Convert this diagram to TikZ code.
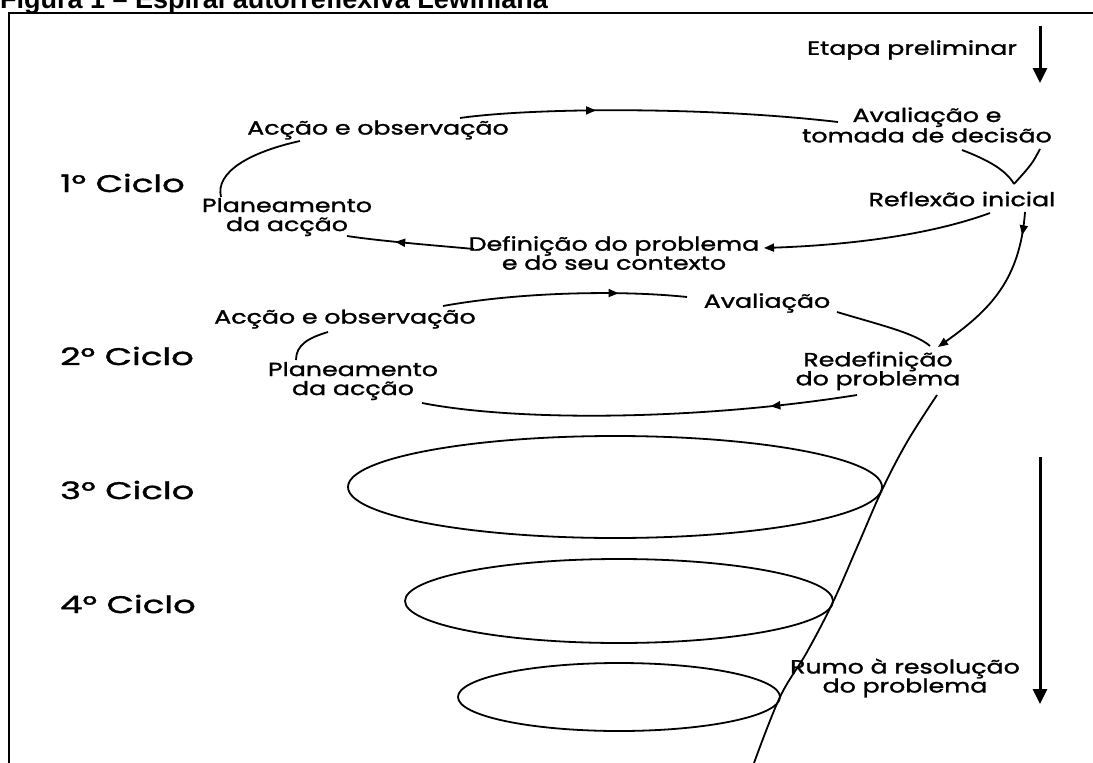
\documentclass[tikz,border=0pt]{standalone}
\usepackage{fontspec}
\setmainfont{Poppins}[FakeStretch=1.33,FakeBold=1.5]
\newfontfamily\cycfont{Poppins}[FakeStretch=1.48,FakeBold=1.5]
\newfontfamily\titlefont{Liberation Sans}
\usetikzlibrary{arrows.meta,decorations.markings}
\begin{document}
\begin{tikzpicture}[x=1pt,y=-1pt,
  lbl/.style={font=\fontsize{19}{19}\selectfont, align=center, inner sep=0pt},
  cyc/.style={font=\cycfont\fontsize{24}{26}\selectfont, anchor=west, inner sep=0pt},
  curve/.style={line width=1.8pt},
  endtip/.style={-{Triangle[length=10pt,width=8pt]}},
  midarrow/.style={postaction={decorate},decoration={markings,mark=at position #1 with {\arrow{Triangle[length=10pt,width=8pt]}}}},
  bigarrow/.style={line width=3pt, -{Triangle[length=15pt,width=14pt]}},
]
\useasboundingbox (0,0) rectangle (1093,763);
% title and frame
\node[anchor=base west, inner sep=0pt, font=\titlefont\bfseries\fontsize{27}{30}\selectfont] (title) at (0,8) {Figura 1 – Espiral autorreflexiva Lewiniana};
\draw[line width=2pt] (9,763) -- (9,13) -- (1093,13);

% preliminary stage
\node[lbl] (etapa) at (912,50) {Etapa preliminar};
\coordinate (e1) at (1040,26); \coordinate (e2) at (1040,83);
\draw[bigarrow] (e1) -- (e2);

% cycle 1
\node[lbl] (ao1) at (378,130) {Acção e observação};
\node[lbl] (av1) at (927,125) {Avaliação e\\tomada de decisão};
\node[cyc] (c1) at (60,183) {1° Ciclo};
\node[lbl] (ri) at (962,199) {Reflexão inicial};
\node[lbl] (pa1) at (287,217) {Planeamento\\da acção};
\node[lbl] (dp) at (614,253) {Definição do problema\\e do seu contexto};

\coordinate (t1a) at (460,118); \coordinate (t1b) at (838,122);
\draw[curve, midarrow=0.36] (t1a) .. controls (530,108) and (700,106) .. (t1b);
\coordinate (l1a) at (221,197); \coordinate (l1b) at (300,141);
\draw[curve] (l1a) .. controls (215,172) and (250,152) .. (l1b);
\coordinate (v1) at (962,150); \coordinate (v0) at (1014,184); \coordinate (v2) at (1040,149);
\draw[curve] (v1) .. controls (988,160) and (1006,170) .. (v0);
\draw[curve] (v2) .. controls (1032,164) .. (v0);
\coordinate (b1a) at (990,213); \coordinate (b1b) at (764,248);
\draw[curve, endtip] (b1a) .. controls (930,235) and (850,245) .. (b1b);
\coordinate (b1c) at (474,249); \coordinate (b1d) at (347,236);
\draw[curve, midarrow=0.62] (b1c) .. controls (430,245) and (380,241) .. (b1d);
\coordinate (d1a) at (1025,212); \coordinate (d1b) at (938,347);
\draw[curve, endtip, midarrow=0.14] (d1a) .. controls (1020,280) and (990,310) .. (d1b);

% cycle 2
\node[lbl] (av2) at (767,303) {Avaliação};
\node[lbl] (ao2) at (345,319) {Acção e observação};
\node[cyc] (c2) at (60,356) {2° Ciclo};
\node[lbl] (rd) at (878,371) {Redefinição\\do problema};
\node[lbl] (pa2) at (353,381) {Planeamento\\da acção};

\coordinate (t2a) at (443,306); \coordinate (t2b) at (687,297);
\draw[curve, midarrow=0.72] (t2a) .. controls (520,292) and (620,290) .. (t2b);
\coordinate (l2a) at (296,360); \coordinate (l2b) at (328,332);
\draw[curve] (l2a) .. controls (296,345) and (308,338) .. (l2b);
\coordinate (r2a) at (837,312); \coordinate (r2b) at (930,346);
\draw[curve] (r2a) .. controls (880,325) and (915,333) .. (r2b);
\coordinate (b2a) at (857,395); \coordinate (b2b) at (422,403);
\draw[curve, midarrow=0.2] (b2a) .. controls (700,420) and (520,422) .. (b2b);

% descending spiral
\draw[curve] plot[smooth, tension=0.6] coordinates {(937,395) (907,442) (882,490) (858,545) (833,602) (807,652) (780,697) (754,763)};

% cycles 3-5
\node[cyc] (c3) at (60,490) {3° Ciclo};
\node[cyc] (c4) at (60,604) {4° Ciclo};
\draw[curve] (615,487) ellipse [x radius=267, y radius=51];
\draw[curve] (619,601) ellipse [x radius=214, y radius=42];
\draw[curve] (619,697) ellipse [x radius=161, y radius=34];

\node[lbl] (rr) at (905,678) {Rumo à resolução\\do problema};
\coordinate (f1) at (1040,457); \coordinate (f2) at (1040,704);
\draw[bigarrow] (f1) -- (f2);
\end{tikzpicture}
\end{document}
